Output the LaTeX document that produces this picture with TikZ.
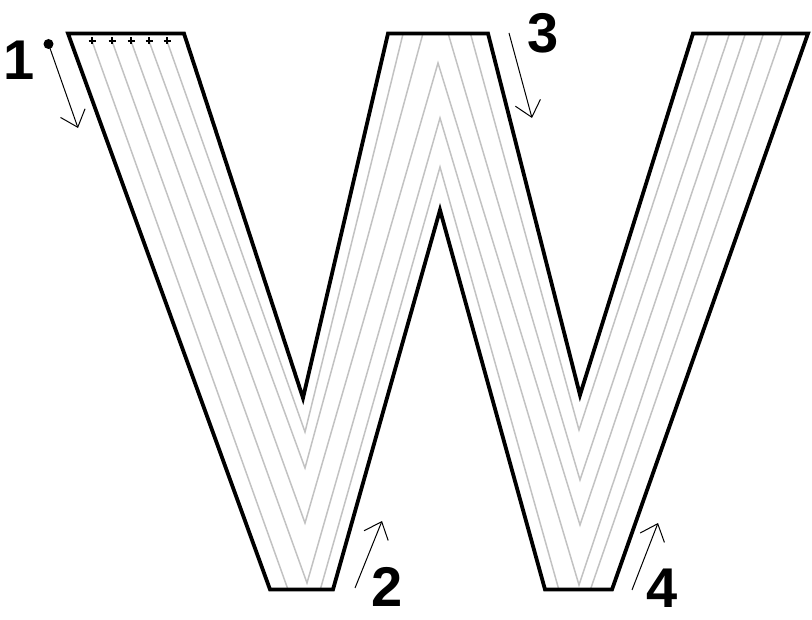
\documentclass[tikz,border=0pt]{standalone}
\usepackage{fontspec}
\setmainfont{Liberation Sans}
\usetikzlibrary{arrows.meta}
\begin{document}
\begin{tikzpicture}[x=1pt,y=-1pt,
  outline/.style={draw=black, line width=3.8pt, line join=miter},
  guide/.style={draw=black!24, line width=1.5pt, line join=miter},
  pointer/.style={draw=black, line width=1pt, -{Straight Barb[length=15pt,width=26pt]}},
  lbl/.style={font=\fontsize{56}{58}\selectfont\bfseries, inner sep=0pt},
  plusmark/.style={draw=black, line width=1.2pt}
]
\useasboundingbox (0,0) rectangle (812,620);

% guide lines clipped to the W
\begin{scope}
  \clip (68,33.5) -- (184,33.5) -- (303,398) -- (388,33.5) -- (488,33.5) -- (580,395)
        -- (693,33.5) -- (808,33.5) -- (612,589.5) -- (545,589.5) -- (440,210)
        -- (333,589.5) -- (270,589.5) -- cycle;
  \draw[guide] (92,41)  -- (306,640) -- (440,167) -- (573,640) -- (787,20);
  \draw[guide] (112,41) -- (307,583) -- (440,118) -- (579,585) -- (768,20);
  \draw[guide] (131,41) -- (305,523) -- (438,63)  -- (580,525) -- (750,20);
  \draw[guide] (149,41) -- (305,468) -- (435,-11) -- (580,480) -- (734,20);
  \draw[guide] (167,41) -- (305,432) -- (435,-96) -- (579,430) -- (713,20);
\end{scope}

% outline of the W
\draw[outline] (68,33.5) -- (184,33.5) -- (303,398) -- (388,33.5) -- (488,33.5) -- (580,395)
        -- (693,33.5) -- (808,33.5) -- (612,589.5) -- (545,589.5) -- (440,210)
        -- (333,589.5) -- (270,589.5) -- cycle;

% start marks
\foreach \xx in {92,112,131,149,167}
  \draw[plusmark] (\xx-3.5,41) -- (\xx+3.5,41) (\xx,37.5) -- (\xx,44.5);

% labels
\node[lbl] (n1) at (19,60) {1};
\node[lbl] (n2) at (387,587) {2};
\node[lbl] (n3) at (543,33) {3};
\node[lbl] (n4) at (662,588) {4};

% arrows
\coordinate (a1s) at (48.5,44);
\coordinate (a1e) at (78,128);
\coordinate (a2s) at (355,588);
\coordinate (a2e) at (382,521);
\coordinate (a3s) at (509,33);
\coordinate (a3e) at (532,118);
\coordinate (a4s) at (632,590);
\coordinate (a4e) at (658,523);
\fill (a1s) circle (5);
\draw[pointer] (a1s) -- (a1e);
\draw[pointer] (a2s) -- (a2e);
\draw[pointer] (a3s) -- (a3e);
\draw[pointer] (a4s) -- (a4e);
\end{tikzpicture}
\end{document}
